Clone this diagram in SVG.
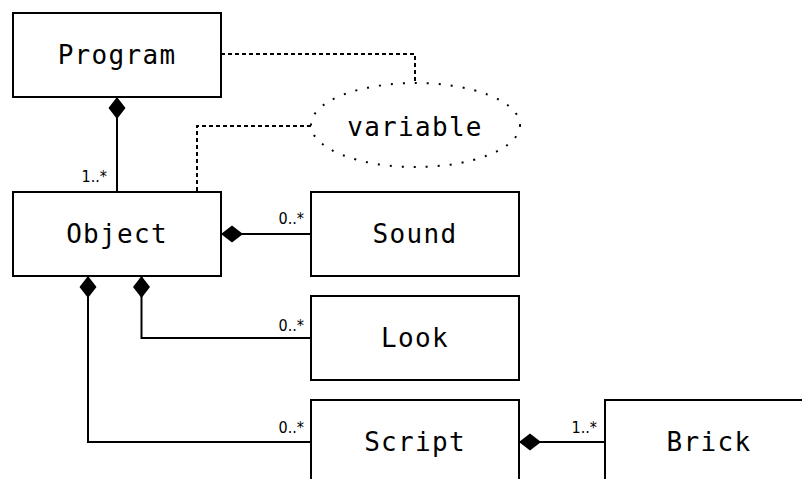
<svg xmlns="http://www.w3.org/2000/svg" width="802" height="479" viewBox="0 0 802 479">
  <style>
    .box { fill: #ffffff; stroke: #000000; stroke-width: 2; }
    .name { font-family: "DejaVu Sans Mono", "Liberation Mono", monospace; font-size: 26px; letter-spacing: 1.3px; text-anchor: middle; fill: #000000; }
    .mult { font-family: "DejaVu Sans Condensed", "DejaVu Sans", sans-serif; font-stretch: condensed; font-size: 16px; text-anchor: end; fill: #000000; }
    .link { fill: none; stroke: #000000; stroke-width: 2; }
    .dep { fill: none; stroke: #000000; stroke-width: 2; stroke-dasharray: 4 3; }
    .attr { fill: #ffffff; stroke: #000000; stroke-width: 2; stroke-dasharray: 2 10; }
  </style>
  <defs>
    <marker id="composition" markerUnits="userSpaceOnUse" markerWidth="24" markerHeight="20" viewBox="0 -10 24 20" refX="0" refY="0" orient="auto">
      <path d="M0,0 L11,-8.5 L22,0 L11,8.5 Z" fill="#000000"/>
    </marker>
  </defs>

  <rect width="802" height="479" fill="#ffffff"/>

  <!-- connectors -->
  <g id="connectors">
    <path class="dep" d="M221,54 H415 V83"/>
    <path class="dep" d="M311,126 H197 V192"/>
    <path class="link" d="M117,97 V192" marker-start="url(#composition)"/>
    <path class="link" d="M221,234 H311" marker-start="url(#composition)"/>
    <path class="link" d="M141.5,276 V338 H311" marker-start="url(#composition)"/>
    <path class="link" d="M88,276 V442 H311" marker-start="url(#composition)"/>
    <path class="link" d="M519,442 H605" marker-start="url(#composition)"/>
    <text class="mult" x="107" y="182">1..*</text>
    <text class="mult" x="304" y="224">0..*</text>
    <text class="mult" x="304" y="331">0..*</text>
    <text class="mult" x="304" y="433">0..*</text>
    <text class="mult" x="597" y="433">1..*</text>
  </g>

  <g id="program">
    <rect class="box" x="13" y="13" width="208" height="84"/>
    <text class="name" x="117" y="64">Program</text>
  </g>

  <g id="variable">
    <ellipse class="attr" cx="415.5" cy="125" rx="104.5" ry="42"/>
    <text class="name" x="415" y="136">variable</text>
  </g>

  <g id="object">
    <rect class="box" x="13" y="192" width="208" height="84"/>
    <text class="name" x="117" y="243">Object</text>
  </g>

  <g id="sound">
    <rect class="box" x="311" y="192" width="208" height="84"/>
    <text class="name" x="415" y="243">Sound</text>
  </g>

  <g id="look">
    <rect class="box" x="311" y="296" width="208" height="84"/>
    <text class="name" x="415" y="347">Look</text>
  </g>

  <g id="script">
    <rect class="box" x="311" y="400" width="208" height="84"/>
    <text class="name" x="415" y="451">Script</text>
  </g>

  <g id="brick">
    <rect class="box" x="605" y="400" width="208" height="84"/>
    <text class="name" x="709" y="451">Brick</text>
  </g>
</svg>
